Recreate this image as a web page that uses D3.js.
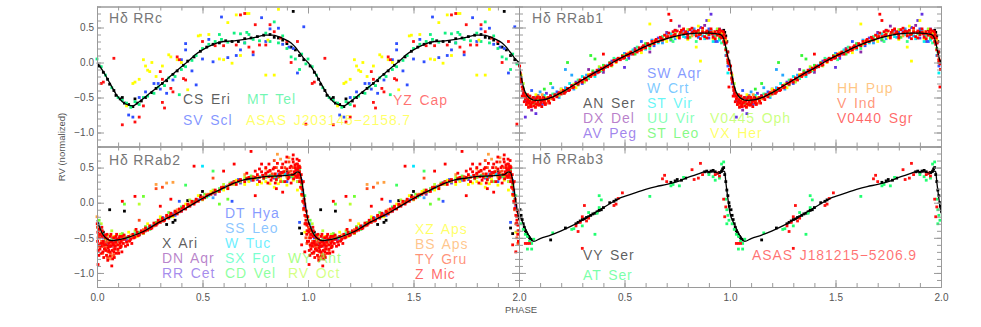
<!DOCTYPE html>
<html><head><meta charset="utf-8">
<script src="https://cdn.jsdelivr.net/npm/d3@7"></script>
<style>
body{margin:0;background:#fff}
svg{display:block}
text{font-family:"Liberation Sans",Arial,sans-serif}
</style>
</head><body>
<svg id="chart" width="981" height="327"></svg>
<script>
// ---------------- DATA ----------------
const phaseTicks = [0, 0.5, 1.0, 1.5, 2.0];
const rvTicks = [-1.0, -0.5, 0.0, 0.5];
const panelTitles = ["Hδ RRc", "Hδ RRab1", "Hδ RRab2", "Hδ RRab3"];

// mean template curves [phase, rv]
const curveRRc = [[0,0.0],[0.03,-0.13],[0.06,-0.29],[0.09,-0.45],[0.12,-0.56],[0.15,-0.61],[0.17,-0.62],[0.20,-0.56],[0.25,-0.44],[0.30,-0.32],[0.35,-0.19],[0.40,-0.06],[0.44,0.04],[0.47,0.12],[0.50,0.18],[0.53,0.23],[0.56,0.27],[0.60,0.30],[0.65,0.31],[0.70,0.33],[0.75,0.36],[0.80,0.39],[0.83,0.39],[0.86,0.37],[0.89,0.33],[0.92,0.28],[0.94,0.22],[0.96,0.14],[0.98,0.06],[1.0,0.0]];
const curveRRab1 = [[0,-0.02],[0.01,-0.2],[0.02,-0.34],[0.03,-0.43],[0.05,-0.51],[0.08,-0.54],[0.12,-0.53],[0.16,-0.49],[0.20,-0.43],[0.25,-0.34],[0.30,-0.25],[0.35,-0.16],[0.40,-0.08],[0.45,0.01],[0.50,0.09],[0.55,0.16],[0.60,0.23],[0.65,0.29],[0.70,0.34],[0.75,0.38],[0.80,0.41],[0.85,0.42],[0.90,0.42],[0.94,0.41],[0.96,0.39],[0.97,0.34],[0.98,0.22],[0.99,0.08],[1.0,-0.02]];
const curveRRab2 = [[0,-0.25],[0.01,-0.33],[0.02,-0.41],[0.03,-0.46],[0.05,-0.52],[0.07,-0.54],[0.10,-0.53],[0.14,-0.50],[0.18,-0.46],[0.22,-0.41],[0.26,-0.34],[0.30,-0.27],[0.34,-0.21],[0.38,-0.15],[0.42,-0.08],[0.46,-0.01],[0.50,0.06],[0.55,0.14],[0.60,0.21],[0.65,0.28],[0.70,0.33],[0.75,0.35],[0.80,0.37],[0.85,0.38],[0.90,0.39],[0.93,0.40],[0.95,0.44],[0.96,0.43],[0.97,0.32],[0.98,0.12],[0.99,-0.08],[1.0,-0.25]];
const curveRRab3 = [[0,-0.15],[0.02,-0.30],[0.04,-0.43],[0.07,-0.55],[0.10,-0.51],[0.15,-0.46],[0.20,-0.40],[0.25,-0.33],[0.30,-0.25],[0.35,-0.16],[0.40,-0.07],[0.45,0.02],[0.48,0.07],[0.50,0.09],[0.55,0.14],[0.60,0.19],[0.65,0.23],[0.70,0.26],[0.75,0.30],[0.80,0.36],[0.85,0.41],[0.88,0.44],[0.92,0.44],[0.95,0.42],[0.97,0.45],[0.975,0.44],[0.98,0.30],[0.99,0.06],[1.0,-0.15]];

// ---- RRc stars ----
const csEri = [[0.01,-0.05],[0.03,-0.14],[0.05,-0.24],[0.06,-0.31],[0.08,-0.40],[0.09,-0.47],[0.11,-0.52],[0.13,-0.58],[0.15,-0.60],[0.17,-0.63],[0.19,-0.58],[0.21,-0.55],[0.23,-0.50],[0.26,-0.43],[0.28,-0.37],[0.31,-0.30],[0.33,-0.26],[0.36,-0.17],[0.38,-0.12],[0.41,-0.04],[0.43,0.02],[0.46,0.08],[0.49,0.16],[0.52,0.22],[0.55,0.26],[0.58,0.28],[0.61,0.31],[0.64,0.30],[0.67,0.30],[0.70,0.34],[0.73,0.35],[0.76,0.37],[0.79,0.39],[0.82,0.40],[0.84,0.36],[0.86,0.35],[0.88,0.32],[0.90,0.27],[0.92,0.22],[0.94,0.18],[0.96,0.10],[0.98,0.04],[0.93,0.73],[0.12,-0.50],[0.18,-0.52]];
const mtTel = [[0.00,0.05],[0.02,-0.06],[0.04,-0.18],[0.07,-0.36],[0.10,-0.50],[0.12,-0.54],[0.14,-0.58],[0.16,-0.64],[0.18,-0.56],[0.20,-0.60],[0.22,-0.50],[0.24,-0.48],[0.27,-0.44],[0.29,-0.35],[0.32,-0.33],[0.34,-0.22],[0.37,-0.20],[0.39,-0.46],[0.40,-0.10],[0.42,-0.06],[0.45,0.03],[0.47,0.10],[0.50,0.20],[0.53,0.26],[0.56,0.30],[0.59,0.33],[0.62,0.29],[0.65,0.42],[0.68,0.41],[0.70,0.28],[0.72,0.40],[0.74,0.33],[0.77,0.31],[0.80,0.42],[0.82,0.30],[0.84,0.58],[0.86,0.28],[0.88,0.38],[0.90,0.20],[0.92,0.08],[0.94,0.05],[0.96,-0.10],[0.97,0.12],[0.99,-0.02],[0.58,0.40],[0.71,0.43]];
const svScl = [[0.15,-0.75],[0.17,-0.78],[0.20,-0.50],[0.23,-0.42],[0.27,-0.30],[0.29,-0.30],[0.33,-0.44],[0.36,-0.25],[0.40,0.04],[0.42,0.27],[0.42,0.18],[0.45,-0.12],[0.47,-0.32],[0.50,0.05],[0.55,0.01],[0.59,0.65],[0.62,0.07],[0.66,0.10],[0.70,0.28],[0.74,0.11],[0.78,0.64],[0.80,0.30],[0.82,0.48],[0.86,0.49],[0.88,0.26],[0.91,0.22],[0.93,0.20],[0.95,-0.15],[0.98,0.51],[0.30,-0.38],[0.53,0.33],[0.68,0.18]];
const asasJ2031 = [[0.17,-0.30],[0.18,-0.28],[0.20,-0.24],[0.22,0.04],[0.23,-0.05],[0.24,-0.11],[0.25,-0.13],[0.26,0.00],[0.28,-0.20],[0.31,-0.05],[0.34,0.11],[0.38,0.04],[0.40,0.00],[0.43,-0.39],[0.49,0.39],[0.53,0.40],[0.58,0.05],[0.60,0.04],[0.62,0.57],[0.64,-0.01],[0.66,0.68],[0.68,0.10],[0.71,0.70],[0.72,0.70],[0.80,-0.18],[0.81,0.32],[0.84,-0.18],[0.86,0.76],[0.48,0.38],[0.35,0.08],[0.14,-0.62]];
const yzCap = [[0.08,0.06],[0.12,-0.89],[0.18,-0.85],[0.20,-0.78],[0.22,-0.62],[0.31,-0.57],[0.32,-0.65],[0.30,-0.13],[0.31,-0.24],[0.35,-0.37],[0.36,-0.42],[0.38,0.08],[0.39,0.04],[0.41,-0.23],[0.42,-0.25],[0.50,0.30],[0.60,0.24],[0.66,0.25],[0.68,0.68],[0.70,0.70],[0.72,0.22],[0.74,0.15],[0.75,0.54],[0.77,0.25],[0.80,0.25],[0.82,0.54],[0.84,0.44],[0.87,0.35],[0.90,0.30],[0.92,0.00],[0.95,0.30],[0.02,-0.30],[0.03,-0.28],[0.99,-0.88],[0.56,0.24]];

// ---- RRab1 stars ----
const anSer = [[0.97,0.46],[0.975,0.43],[0.98,0.38],[0.985,0.30],[0.99,0.15],[0.995,0.02],[0.05,-0.50],[0.12,-0.50],[0.30,-0.26],[0.50,0.08],[0.70,0.36],[0.90,0.44],[0.96,0.42],[0.94,0.47]];
const dxDel = [[0.02,-0.45],[0.06,-0.68],[0.10,-0.58],[0.15,-0.47],[0.25,-0.33],[0.33,-0.10],[0.40,-0.14],[0.48,0.05],[0.55,0.20],[0.62,0.15],[0.70,0.43],[0.76,0.52],[0.80,0.36],[0.84,0.44],[0.88,0.53],[0.92,0.40],[0.95,0.48],[0.97,0.36],[0.99,0.00]];
const avPeg = [[0.01,-0.30],[0.04,-0.58],[0.08,-0.60],[0.13,-0.44],[0.20,-0.38],[0.27,-0.28],[0.36,-0.14],[0.44,0.02],[0.52,0.06],[0.60,0.26],[0.66,0.35],[0.72,0.32],[0.78,0.46],[0.82,0.44],[0.86,0.50],[0.90,0.35],[0.93,0.30],[0.96,0.45],[0.98,0.28],[0.89,0.60],[0.08,-0.73],[0.50,-0.07],[0.03,-0.78],[0.91,0.69]];
const swAqr = [[0.03,-0.55],[0.07,-0.50],[0.11,-0.60],[0.18,-0.42],[0.23,-0.40],[0.30,-0.30],[0.38,-0.10],[0.46,0.04],[0.53,0.12],[0.58,0.30],[0.64,0.24],[0.70,0.40],[0.74,0.46],[0.80,0.44],[0.85,0.36],[0.90,0.48],[0.94,0.30],[0.97,0.40],[0.99,-0.05],[0.06,-0.40]];
const wCrt = [[0.02,-0.40],[0.05,-0.56],[0.09,-0.47],[0.14,-0.52],[0.19,-0.50],[0.22,-0.36],[0.26,-0.38],[0.32,-0.18],[0.37,-0.15],[0.42,-0.04],[0.50,0.13],[0.57,0.18],[0.63,0.32],[0.68,0.28],[0.74,0.34],[0.79,0.36],[0.83,0.48],[0.87,0.38],[0.91,0.46],[0.95,0.36],[0.98,0.10],[0.16,-0.36],[0.10,-0.42],[0.22,-0.10],[0.25,-0.18]];
const stVir = [[0.01,-0.22],[0.04,-0.48],[0.08,-0.50],[0.12,-0.47],[0.17,-0.45],[0.24,-0.30],[0.30,-0.20],[0.36,-0.20],[0.41,-0.07],[0.47,0.06],[0.54,0.18],[0.60,0.19],[0.66,0.28],[0.72,0.41],[0.78,0.37],[0.83,0.40],[0.88,0.34],[0.92,0.30],[0.95,0.32],[0.975,0.28],[0.99,-0.15]];
const uuVir = [[0.02,-0.36],[0.06,-0.52],[0.10,-0.56],[0.16,-0.45],[0.21,-0.44],[0.28,-0.25],[0.33,-0.23],[0.39,-0.12],[0.45,0.06],[0.51,0.04],[0.56,0.22],[0.62,0.20],[0.68,0.37],[0.73,0.30],[0.77,0.42],[0.84,0.30],[0.89,0.41],[0.93,0.38],[0.96,0.28],[0.985,0.15]];
const stLeo = [[0.03,-0.45],[0.07,-0.58],[0.12,-0.55],[0.15,-0.30],[0.22,-0.40],[0.28,-0.32],[0.35,-0.12],[0.40,-0.04],[0.43,0.00],[0.49,0.10],[0.55,0.12],[0.60,0.27],[0.67,0.32],[0.72,0.33],[0.76,0.40],[0.81,0.36],[0.86,0.40],[0.91,0.42],[0.95,0.35],[0.98,0.20],[0.34,0.10],[0.12,-0.38],[0.23,0.00],[0.36,0.05]];
const v0445Oph = [[0.02,-0.30],[0.05,-0.48],[0.09,-0.52],[0.13,-0.50],[0.19,-0.47],[0.26,-0.31],[0.31,-0.28],[0.38,-0.06],[0.44,-0.05],[0.50,0.10],[0.57,0.20],[0.63,0.26],[0.69,0.33],[0.74,0.42],[0.80,0.47],[0.85,0.44],[0.90,0.40],[0.94,0.48],[0.97,0.40],[0.99,0.00]];
const vxHer = [[0.01,-0.18],[0.05,-0.53],[0.08,-0.46],[0.14,-0.54],[0.20,-0.38],[0.27,-0.36],[0.33,-0.17],[0.39,-0.10],[0.46,0.00],[0.52,0.14],[0.58,0.14],[0.64,0.30],[0.70,0.30],[0.75,0.36],[0.80,0.33],[0.84,0.22],[0.87,0.45],[0.92,0.34],[0.96,0.43],[0.98,0.32],[0.62,0.55],[0.90,0.60],[0.85,0.52],[0.86,0.02]];
const hhPup = [[0.02,-0.38],[0.06,-0.56],[0.10,-0.50],[0.15,-0.52],[0.20,-0.41],[0.25,-0.36],[0.30,-0.27],[0.35,-0.18],[0.42,-0.06],[0.48,0.06],[0.53,0.14],[0.59,0.20],[0.65,0.31],[0.70,0.38],[0.76,0.40],[0.82,0.38],[0.87,0.43],[0.92,0.44],[0.95,0.38],[0.98,0.30],[0.12,-0.56],[0.04,-0.60],[0.08,-0.62],[0.11,-0.46]];
const vInd = [[0.01,-0.25],[0.03,-0.47],[0.07,-0.56],[0.11,-0.52],[0.17,-0.48],[0.23,-0.37],[0.29,-0.26],[0.34,-0.17],[0.40,-0.09],[0.46,0.02],[0.51,0.10],[0.57,0.17],[0.62,0.25],[0.68,0.33],[0.73,0.38],[0.79,0.42],[0.84,0.40],[0.89,0.43],[0.93,0.41],[0.97,0.36],[0.99,0.05],[0.05,-0.62],[0.09,-0.48],[0.13,-0.58]];
const v0440Sgr = [[0.003,-0.05],[0.006,-0.15],[0.008,-0.22],[0.012,-0.28],[0.015,-0.35],[0.018,-0.40],[0.022,-0.44],[0.026,-0.48],[0.03,-0.52],[0.034,-0.50],[0.038,-0.56],[0.042,-0.53],[0.046,-0.58],[0.05,-0.55],[0.055,-0.60],[0.06,-0.52],[0.065,-0.57],[0.07,-0.62],[0.075,-0.55],[0.08,-0.59],[0.085,-0.50],[0.09,-0.56],[0.095,-0.61],[0.10,-0.53],[0.105,-0.57],[0.11,-0.55],[0.115,-0.50],[0.12,-0.58],[0.13,-0.52],[0.14,-0.55],[0.15,-0.48],[0.16,-0.51],[0.17,-0.46],[0.18,-0.49],[0.19,-0.43],[0.20,-0.45],[0.21,-0.40],[0.22,-0.42],[0.23,-0.37],[0.24,-0.39],[0.25,-0.33],[0.26,-0.35],[0.27,-0.30],[0.28,-0.31],[0.29,-0.25],[0.30,-0.28],[0.31,-0.22],[0.32,-0.25],[0.33,-0.19],[0.34,-0.20],[0.35,-0.15],[0.36,-0.17],[0.37,-0.11],[0.38,-0.13],[0.39,-0.08],[0.40,-0.10],[0.41,-0.05],[0.42,-0.06],[0.43,-0.01],[0.44,-0.03],[0.45,0.03],[0.46,0.01],[0.47,0.06],[0.48,0.04],[0.49,0.09],[0.50,0.07],[0.51,0.12],[0.52,0.10],[0.53,0.15],[0.54,0.12],[0.55,0.18],[0.56,0.15],[0.57,0.21],[0.58,0.18],[0.59,0.24],[0.60,0.21],[0.61,0.27],[0.62,0.24],[0.63,0.30],[0.64,0.27],[0.65,0.33],[0.66,0.30],[0.67,0.36],[0.68,0.32],[0.69,0.39],[0.70,0.35],[0.71,0.42],[0.72,0.37],[0.73,0.44],[0.74,0.40],[0.75,0.45],[0.76,0.38],[0.77,0.46],[0.78,0.41],[0.79,0.44],[0.80,0.39],[0.81,0.47],[0.82,0.42],[0.83,0.45],[0.84,0.38],[0.85,0.46],[0.86,0.41],[0.87,0.44],[0.88,0.37],[0.89,0.45],[0.90,0.40],[0.91,0.43],[0.92,0.36],[0.93,0.44],[0.94,0.39],[0.95,0.42],[0.96,0.35],[0.965,0.38],[0.97,0.30],[0.975,0.26],[0.98,0.18],[0.985,0.10],[0.99,0.03],[0.995,-0.02],[0.72,0.60],[0.40,0.12],[0.71,0.69],[0.995,-0.35],
[0.01,-0.24],[0.02,-0.38],[0.04,-0.46],[0.06,-0.58],[0.08,-0.52],[0.10,-0.60],[0.12,-0.54],[0.14,-0.50],[0.165,-0.53],[0.185,-0.45],[0.215,-0.44],[0.235,-0.40],[0.255,-0.36],[0.285,-0.28],[0.315,-0.24],[0.345,-0.17],[0.375,-0.14],[0.405,-0.07],[0.435,-0.04],[0.465,0.04],[0.495,0.06],[0.525,0.13],[0.555,0.16],[0.585,0.22],[0.615,0.25],[0.645,0.31],[0.675,0.34],[0.705,0.37],[0.735,0.39],[0.765,0.43],[0.795,0.41],[0.825,0.43],[0.855,0.40],[0.885,0.43],[0.915,0.41],[0.945,0.44],[0.955,0.37],
[0.015,-0.48],[0.025,-0.56],[0.035,-0.60],[0.045,-0.64],[0.052,-0.48],[0.058,-0.63],[0.068,-0.50],[0.078,-0.64],[0.088,-0.60],[0.098,-0.50],[0.108,-0.63],[0.125,-0.60],[0.145,-0.58],[0.74,0.46],[0.76,0.35],[0.78,0.48],[0.80,0.35],[0.82,0.49],[0.84,0.44],[0.86,0.34],[0.87,0.49],[0.89,0.35],[0.91,0.48],[0.93,0.34],[0.95,0.47],[0.96,0.45],[0.968,0.44],[0.972,0.40],[0.978,0.35],[0.982,0.28],[0.988,0.15],[0.992,0.00],[0.997,-0.10]];

// ---- RRab2 stars ----
const xAri = [[0.06,-0.10],[0.13,-0.12],[0.05,-0.60],[0.03,-0.42],[0.36,-0.28],[0.37,-0.25],[0.33,-0.31],[0.50,0.16],[0.49,0.10],[0.65,0.30],[0.80,0.37],[0.90,0.44],[0.95,0.40],[0.96,-0.36],[0.97,-0.44],[0.99,-0.30],[0.20,-0.45],[0.43,0.03]];
const dnAqr = [[0.02,-0.45],[0.06,-0.62],[0.10,-0.55],[0.16,-0.48],[0.24,-0.38],[0.32,-0.24],[0.40,-0.12],[0.48,0.04],[0.56,0.12],[0.64,0.28],[0.72,0.32],[0.80,0.40],[0.87,0.43],[0.93,0.35],[0.97,0.28]];
const rrCet = [[0.03,-0.55],[0.08,-0.62],[0.14,-0.53],[0.21,-0.42],[0.28,-0.30],[0.36,-0.16],[0.44,-0.04],[0.52,0.09],[0.60,0.20],[0.68,0.28],[0.76,0.33],[0.84,0.35],[0.90,0.42],[0.95,0.30],[0.985,-0.05]];
const dtHya = [[0.03,-0.50],[0.08,-0.56],[0.13,-0.52],[0.19,-0.46],[0.25,-0.35],[0.31,-0.21],[0.37,-0.18],[0.43,-0.03],[0.49,0.05],[0.55,0.15],[0.61,0.23],[0.67,0.33],[0.73,0.32],[0.79,0.38],[0.85,0.36],[0.90,0.30],[0.95,0.38],[0.98,0.00],[0.39,0.02],[0.96,-0.28],[0.64,0.02]];
const ssLeo = [[0.01,-0.30],[0.05,-0.58],[0.09,-0.52],[0.14,-0.49],[0.20,-0.45],[0.26,-0.33],[0.32,-0.22],[0.38,-0.15],[0.44,-0.02],[0.50,0.06],[0.56,0.17],[0.62,0.22],[0.68,0.31],[0.74,0.34],[0.80,0.36],[0.86,0.40],[0.92,0.37],[0.97,0.32],[0.55,0.07]];
const wTuc = [[0.02,-0.35],[0.06,-0.55],[0.11,-0.53],[0.17,-0.47],[0.23,-0.40],[0.29,-0.27],[0.35,-0.17],[0.41,-0.08],[0.47,0.04],[0.53,0.10],[0.59,0.19],[0.65,0.29],[0.71,0.33],[0.77,0.37],[0.83,0.38],[0.89,0.41],[0.94,0.42],[0.975,0.15],[0.50,0.52]];
const sxFor = [[0.03,-0.46],[0.07,-0.52],[0.12,-0.50],[0.18,-0.44],[0.24,-0.36],[0.31,-0.26],[0.37,-0.13],[0.43,-0.04],[0.49,0.07],[0.55,0.14],[0.61,0.22],[0.67,0.30],[0.73,0.35],[0.80,0.38],[0.86,0.36],[0.91,0.40],[0.95,0.42],[0.98,0.05]];
const cdVel = [[0.02,-0.40],[0.06,-0.54],[0.10,-0.52],[0.15,-0.50],[0.20,-0.42],[0.25,-0.38],[0.30,-0.24],[0.35,-0.20],[0.40,-0.06],[0.46,0.02],[0.52,0.08],[0.58,0.20],[0.64,0.27],[0.70,0.33],[0.76,0.36],[0.82,0.39],[0.87,0.40],[0.92,0.38],[0.96,0.46],[0.985,0.10],[0.42,0.25],[0.55,0.45]];
const wyAnt = [[0.01,-0.25],[0.04,-0.52],[0.08,-0.50],[0.12,-0.44],[0.17,-0.48],[0.23,-0.34],[0.28,-0.28],[0.34,-0.14],[0.39,-0.10],[0.45,-0.01],[0.51,0.12],[0.57,0.16],[0.63,0.28],[0.68,0.30],[0.73,0.38],[0.79,0.34],[0.84,0.37],[0.88,0.30],[0.93,0.36],[0.97,0.25],[0.62,0.05],[0.58,-0.02],[0.13,-0.02],[0.22,0.09]];
const rvOct = [[0.02,-0.30],[0.05,-0.46],[0.09,-0.56],[0.13,-0.47],[0.18,-0.40],[0.22,-0.44],[0.27,-0.30],[0.33,-0.20],[0.38,-0.12],[0.44,0.04],[0.50,0.04],[0.55,0.18],[0.60,0.26],[0.65,0.26],[0.70,0.36],[0.75,0.34],[0.80,0.36],[0.85,0.32],[0.90,0.36],[0.95,0.30],[0.98,0.00],[0.20,-0.02],[0.07,-0.40],[0.11,-0.45]];
const xzAps = [[0.01,-0.38],[0.04,-0.50],[0.08,-0.48],[0.11,-0.62],[0.15,-0.42],[0.19,-0.48],[0.24,-0.30],[0.30,-0.20],[0.36,-0.20],[0.42,-0.02],[0.48,0.10],[0.54,0.16],[0.60,0.18],[0.66,0.32],[0.72,0.30],[0.76,0.26],[0.80,0.30],[0.84,0.22],[0.87,0.33],[0.90,0.25],[0.93,0.32],[0.95,0.18],[0.97,0.10],[0.985,-0.42],[0.62,0.20],[0.70,0.26],[0.78,0.28],[0.82,0.27],[0.86,0.27],[0.74,0.33]];
const bsAps = [[0.00,-0.20],[0.02,-0.42],[0.04,-0.64],[0.07,-0.76],[0.09,-0.60],[0.12,-0.50],[0.16,-0.46],[0.22,-0.38],[0.28,0.26],[0.33,0.28],[0.36,0.29],[0.30,-0.26],[0.38,-0.10],[0.44,-0.02],[0.52,0.12],[0.58,0.18],[0.64,0.26],[0.70,0.40],[0.76,0.38],[0.80,0.48],[0.84,0.40],[0.87,0.62],[0.89,0.45],[0.92,0.40],[0.94,0.50],[0.96,0.35],[0.98,-0.10],[0.06,-0.80],[0.855,0.69],[0.91,0.64]];
const tyGru = [[0.97,0.20],[0.98,0.00],[0.99,-0.20],[0.995,-0.40],[0.002,-0.35],[0.01,-0.46],[0.016,-0.40],[0.022,-0.55],[0.03,-0.62],[0.037,-0.48],[0.045,-0.56],[0.052,-0.70],[0.06,-0.54],[0.068,-0.60],[0.075,-0.50],[0.083,-0.62],[0.09,-0.58],[0.10,-0.68],[0.11,-0.56],[0.12,-0.53],[0.135,-0.50],[0.15,-0.55],[0.17,-0.50],[0.19,-0.45],[0.21,-0.43],[0.23,-0.40],[0.25,-0.36],[0.27,-0.33],[0.29,-0.28],[0.31,-0.25],[0.33,-0.20],[0.35,-0.18],[0.37,-0.14],[0.39,-0.13],[0.41,-0.07],[0.43,-0.05],[0.45,0.00],[0.47,0.03],[0.50,0.08],[0.53,0.12],[0.56,0.15],[0.59,0.22],[0.62,0.24],[0.65,0.30],[0.68,0.31],[0.71,0.35],[0.74,0.37],[0.77,0.36],[0.80,0.40],[0.83,0.41],[0.86,0.37],[0.88,0.42],[0.90,0.38],[0.92,0.45],[0.94,0.42],[0.95,0.48],[0.96,0.38],[0.28,0.20],[0.31,0.22],[0.20,-0.25],[0.84,0.60],[0.91,0.58],[0.55,0.35],[0.05,-0.78],[0.08,-0.74],
[0.005,-0.50],[0.012,-0.62],[0.02,-0.45],[0.027,-0.72],[0.034,-0.58],[0.04,-0.65],[0.048,-0.50],[0.056,-0.62],[0.064,-0.72],[0.072,-0.56],[0.08,-0.66],[0.087,-0.50],[0.095,-0.60],[0.105,-0.55],[0.115,-0.62],[0.82,0.45],[0.85,0.50],[0.87,0.30],[0.89,0.50],[0.91,0.44],[0.93,0.50],[0.94,0.36],[0.945,0.55],[0.955,0.42],[0.96,0.52],[0.965,0.30],[0.975,0.10],[0.98,-0.10],[0.985,-0.30],[0.99,-0.50],[0.995,-0.58]];
const zMic = [[0.955,0.40],[0.96,0.30],[0.965,0.22],[0.97,0.12],[0.975,0.02],[0.98,-0.08],[0.985,-0.18],[0.99,-0.25],[0.995,-0.32],[0.998,-0.20],[0.001,-0.30],[0.004,-0.42],[0.008,-0.38],[0.012,-0.50],[0.015,-0.45],[0.018,-0.58],[0.02,-0.62],[0.024,-0.48],[0.028,-0.70],[0.03,-0.55],[0.035,-0.66],[0.038,-0.50],[0.042,-0.60],[0.045,-0.75],[0.05,-0.52],[0.053,-0.64],[0.056,-0.58],[0.06,-0.70],[0.063,-0.48],[0.067,-0.62],[0.07,-0.55],[0.074,-0.80],[0.078,-0.60],[0.08,-0.50],[0.085,-0.66],[0.088,-0.56],[0.092,-0.72],[0.095,-0.52],[0.10,-0.60],[0.105,-0.50],[0.11,-0.64],[0.115,-0.55],[0.12,-0.48],[0.125,-0.58],[0.13,-0.52],[0.14,-0.56],[0.15,-0.48],[0.16,-0.52],[0.17,-0.45],[0.18,-0.49],[0.19,-0.42],[0.20,-0.46],[0.21,-0.40],[0.22,-0.43],[0.23,-0.36],[0.24,-0.39],[0.25,-0.33],[0.26,-0.36],[0.27,-0.29],[0.28,-0.32],[0.29,-0.25],[0.30,-0.28],[0.31,-0.22],[0.32,-0.25],[0.33,-0.18],[0.34,-0.22],[0.35,-0.15],[0.36,-0.18],[0.37,-0.12],[0.38,-0.16],[0.39,-0.09],[0.40,-0.12],[0.41,-0.05],[0.42,-0.09],[0.43,-0.02],[0.44,-0.05],[0.45,0.02],[0.46,-0.02],[0.47,0.05],[0.48,0.02],[0.49,0.08],[0.50,0.05],[0.52,0.10],[0.54,0.12],[0.56,0.18],[0.58,0.16],[0.60,0.22],[0.62,0.20],[0.64,0.28],[0.66,0.26],[0.68,0.33],[0.70,0.30],[0.72,0.36],[0.74,0.32],[0.76,0.40],[0.77,0.30],[0.78,0.44],[0.79,0.35],[0.80,0.42],[0.81,0.28],[0.82,0.46],[0.83,0.36],[0.84,0.50],[0.85,0.33],[0.86,0.45],[0.87,0.38],[0.88,0.55],[0.89,0.30],[0.90,0.48],[0.91,0.36],[0.92,0.52],[0.925,0.40],[0.93,0.58],[0.935,0.44],[0.94,0.50],[0.945,0.38],[0.95,0.55],[0.952,0.47],[0.958,0.60],[0.96,0.44],[0.73,0.73],[0.46,0.52],[0.12,0.02],[0.18,0.09],[0.85,0.20],[0.88,0.15],[0.90,0.65],[0.93,0.68],[0.60,0.45],[0.30,-0.05],[0.65,0.55],[0.005,-0.88],[0.07,-0.90],[0.97,-0.60],[0.985,-0.70],[0.75,0.10],[0.35,0.05],
[0.01,-0.60],[0.025,-0.40],[0.04,-0.46],[0.055,-0.68],[0.065,-0.56],[0.08,-0.70],[0.09,-0.48],[0.11,-0.58],[0.135,-0.62],[0.155,-0.54],[0.175,-0.50],[0.195,-0.47],[0.225,-0.40],[0.255,-0.37],[0.285,-0.30],[0.315,-0.26],[0.345,-0.19],[0.375,-0.14],[0.405,-0.08],[0.435,-0.04],[0.465,0.01],[0.51,0.07],[0.55,0.14],[0.59,0.21],[0.63,0.26],[0.67,0.31],[0.71,0.34],[0.75,0.36],[0.785,0.39],[0.815,0.37],[0.845,0.41],[0.875,0.43],[0.905,0.42],[0.935,0.40],[0.955,0.50],
[0.003,-0.55],[0.006,-0.68],[0.009,-0.75],[0.014,-0.66],[0.019,-0.72],[0.023,-0.35],[0.027,-0.58],[0.032,-0.78],[0.036,-0.60],[0.041,-0.68],[0.047,-0.45],[0.051,-0.82],[0.058,-0.62],[0.062,-0.76],[0.066,-0.45],[0.072,-0.68],[0.076,-0.58],[0.082,-0.78],[0.087,-0.62],[0.093,-0.45],[0.098,-0.66],[0.103,-0.72],[0.108,-0.48],[0.113,-0.62],[0.118,-0.70],[0.128,-0.46],[0.145,-0.60],[0.165,-0.58],[0.185,-0.38],
[0.80,0.50],[0.81,0.44],[0.815,0.55],[0.825,0.32],[0.835,0.48],[0.845,0.28],[0.855,0.56],[0.865,0.40],[0.875,0.50],[0.885,0.44],[0.895,0.58],[0.905,0.34],[0.915,0.50],[0.92,0.28],[0.928,0.62],[0.932,0.34],[0.938,0.54],[0.942,0.46],[0.948,0.62],[0.95,0.36],[0.955,0.52],[0.962,0.50],[0.965,0.35],[0.968,0.40],[0.972,0.28],[0.975,0.18],[0.978,0.30],[0.982,0.05],[0.985,-0.02],[0.988,-0.30],[0.992,-0.12],[0.994,-0.45],[0.997,-0.55],[0.999,-0.40],[0.78,0.55],[0.77,0.48],[0.75,0.45],[0.71,0.42]];

// ---- RRab3 stars ----
const vySer = [[0.005,-0.10],[0.01,-0.18],[0.015,-0.24],[0.02,-0.30],[0.025,-0.35],[0.03,-0.40],[0.035,-0.43],[0.04,-0.46],[0.045,-0.48],[0.05,-0.50],[0.055,-0.52],[0.06,-0.53],[0.15,-0.53],[0.22,-0.36],[0.27,-0.30],[0.28,-0.28],[0.29,-0.26],[0.30,-0.24],[0.31,-0.23],[0.32,-0.21],[0.33,-0.20],[0.34,-0.18],[0.35,-0.16],[0.36,-0.15],[0.37,-0.13],[0.38,-0.11],[0.39,-0.10],[0.40,-0.07],[0.43,0.00],[0.45,0.02],[0.46,0.04],[0.72,0.29],[0.74,0.31],[0.75,0.33],[0.77,0.32],[0.79,0.35],[0.88,0.44],[0.89,0.45],[0.90,0.43],[0.91,0.45],[0.92,0.46],[0.93,0.44],[0.94,0.42],[0.95,0.43],[0.96,0.45],[0.965,0.48],[0.97,0.50],[0.975,0.40],[0.98,0.30],[0.985,0.18],[0.99,0.10],[0.995,0.00],[0.997,-0.05]];
const atSer = [[0.01,-0.30],[0.02,-0.38],[0.03,-0.45],[0.04,-0.48],[0.05,-0.55],[0.06,-0.58],[0.07,-0.52],[0.04,-0.66],[0.06,-0.66],[0.16,-0.43],[0.25,-0.38],[0.26,-0.37],[0.30,-0.33],[0.33,-0.14],[0.37,-0.15],[0.38,-0.07],[0.38,0.10],[0.39,0.04],[0.36,-0.45],[0.62,0.09],[0.72,0.24],[0.73,0.26],[0.76,0.24],[0.78,0.36],[0.90,0.40],[0.92,0.37],[0.93,0.32],[0.95,0.35],[0.96,0.55],[0.97,0.58],[0.98,0.05],[0.985,-0.10],[0.99,-0.18],[0.995,-0.25],[0.985,-0.30]];
const asasJ1812 = [[0.03,-0.58],[0.04,-0.58],[0.05,-0.58],[0.27,-0.33],[0.28,-0.41],[0.29,-0.28],[0.30,-0.20],[0.30,-0.65],[0.31,-0.04],[0.32,-0.26],[0.33,-0.22],[0.45,-0.04],[0.46,-0.02],[0.47,0.06],[0.49,0.14],[0.68,0.34],[0.69,0.39],[0.70,0.30],[0.82,0.47],[0.83,0.33],[0.85,0.35],[0.87,0.40],[0.86,0.56],[0.93,0.40],[0.94,0.42],[0.95,0.38],[0.97,0.05],[0.975,-0.20],[0.98,-0.06]];

// ---------------- LAYOUT / DRAW ----------------
const svg = d3.select("#chart");
const axisColor = "#9a9a9a", labelColor = "#555";
const colX = [[97, 519], [519, 941]];
const rowY = [[146.5, 6.5], [287, 146.5]];

const panels = [
  {title: panelTitles[0], col: 0, row: 0, curve: curveRRc, titlePos: [109, 23], stars: [
    {name: "CS Eri", color: "#000000", data: csEri, pos: [183, 104]},
    {name: "SV Scl", color: "#2f4fff", data: svScl, pos: [183, 125]},
    {name: "MT Tel", color: "#10f080", data: mtTel, pos: [247, 104]},
    {name: "ASAS J203145−2158.7", color: "#ffff00", data: asasJ2031, pos: [246, 125]},
    {name: "YZ Cap", color: "#ff1010", data: yzCap, pos: [393, 105]}]},
  {title: panelTitles[1], col: 1, row: 0, curve: curveRRab1, titlePos: [532, 23], stars: [
    {name: "AN Ser", color: "#000000", data: anSer, pos: [583, 108]},
    {name: "DX Del", color: "#8a2aa8", data: dxDel, pos: [583, 123]},
    {name: "AV Peg", color: "#6433e0", data: avPeg, pos: [583, 138]},
    {name: "SW Aqr", color: "#3358ff", data: swAqr, pos: [647, 78]},
    {name: "W Crt", color: "#25a5ff", data: wCrt, pos: [647, 93]},
    {name: "ST Vir", color: "#00f0f0", data: stVir, pos: [647, 108]},
    {name: "UU Vir", color: "#35ff8a", data: uuVir, pos: [647, 123]},
    {name: "ST Leo", color: "#35f535", data: stLeo, pos: [647, 138]},
    {name: "V0445 Oph", color: "#a8ff2a", data: v0445Oph, pos: [710, 123]},
    {name: "VX Her", color: "#ffff00", data: vxHer, pos: [710, 138]},
    {name: "HH Pup", color: "#ffa030", data: hhPup, pos: [837, 93]},
    {name: "V Ind", color: "#ff5020", data: vInd, pos: [837, 108]},
    {name: "V0440 Sgr", color: "#ff0000", data: v0440Sgr, pos: [837, 123]}]},
  {title: panelTitles[2], col: 0, row: 1, curve: curveRRab2, titlePos: [109, 165], stars: [
    {name: "X Ari", color: "#000000", data: xAri, pos: [162, 248]},
    {name: "DN Aqr", color: "#8a30a8", data: dnAqr, pos: [162, 263]},
    {name: "RR Cet", color: "#6a40e0", data: rrCet, pos: [162, 278]},
    {name: "DT Hya", color: "#3358ff", data: dtHya, pos: [225, 218]},
    {name: "SS Leo", color: "#40a0ff", data: ssLeo, pos: [225, 233]},
    {name: "W Tuc", color: "#00e4ff", data: wTuc, pos: [225, 248]},
    {name: "SX For", color: "#20ffb0", data: sxFor, pos: [225, 263]},
    {name: "CD Vel", color: "#40ff60", data: cdVel, pos: [225, 278]},
    {name: "WY Ant", color: "#70ff30", data: wyAnt, pos: [288, 263]},
    {name: "RV Oct", color: "#b8ff30", data: rvOct, pos: [288, 278]},
    {name: "XZ Aps", color: "#ffff00", data: xzAps, pos: [415, 234]},
    {name: "BS Aps", color: "#ffa040", data: bsAps, pos: [415, 249]},
    {name: "TY Gru", color: "#ff4a1a", data: tyGru, pos: [415, 264]},
    {name: "Z Mic", color: "#ff0000", data: zMic, pos: [415, 279]}]},
  {title: panelTitles[3], col: 1, row: 1, curve: curveRRab3, titlePos: [532, 164], stars: [
    {name: "VY Ser", color: "#000000", data: vySer, pos: [583, 260]},
    {name: "AT Ser", color: "#20ff70", data: atSer, pos: [583, 280]},
    {name: "ASAS J181215−5206.9", color: "#ff1010", data: asasJ1812, pos: [752, 260]}]}
];

const fmt = d => d3.format(".1f")(d).replace("-", "−");
const minorX = d3.range(0, 2.0001, 0.1).map(v => +v.toFixed(2));
const minorY = d3.range(-1.2, 0.8001, 0.1).map(v => +v.toFixed(2));

function styleAxis(g) {
  g.selectAll("path.domain").attr("stroke", axisColor).attr("stroke-width", 1);
  g.selectAll(".tick line").attr("stroke", axisColor).attr("stroke-width", 1);
  g.selectAll(".tick text").attr("fill", labelColor).style("font-size", "10px")
    .style("font-family", '"Liberation Sans",Arial,sans-serif');
}

panels.forEach(p => {
  const x = d3.scaleLinear().domain([0, 2]).range(colX[p.col]);
  const y = d3.scaleLinear().domain([-1.2, 0.8]).range(rowY[p.row]);
  const g = svg.append("g");
  const [x0, x1] = colX[p.col], [yb, yt] = rowY[p.row];

  // points (two cycles)
  const pg = g.append("g");
  p.stars.forEach(s => {
    const pts = [];
    s.data.forEach(d => { pts.push([d[0], d[1]]); pts.push([d[0] + 1, d[1]]); });
    pg.selectAll(null).data(pts.filter(d => d[0] >= 0 && d[0] <= 2 && d[1] >= -1.2 && d[1] <= 0.8))
      .join("rect")
      .attr("x", d => x(d[0]) - 1.4).attr("y", d => y(d[1]) - 1.4)
      .attr("width", 2.8).attr("height", 2.8).attr("fill", s.color);
  });

  // template curve
  const cpts = p.curve.map(d => [d[0], d[1]]).concat(p.curve.slice(1).map(d => [d[0] + 1, d[1]]));
  g.append("path").datum(cpts)
    .attr("fill", "none").attr("stroke", "#000").attr("stroke-width", 1.3)
    .attr("d", d3.line().x(d => x(d[0])).y(d => y(d[1])).curve(d3.curveMonotoneX));

  // axes
  const showY = p.col === 0, showX = p.row === 1;
  const ga = g.append("g");
  const lMaj = ga.append("g").attr("transform", `translate(${x0},0)`)
    .call(d3.axisLeft(y).tickValues(rvTicks).tickSize(-7).tickSizeOuter(0).tickPadding(3)
      .tickFormat(showY ? fmt : () => ""));
  const lMin = ga.append("g").attr("transform", `translate(${x0},0)`)
    .call(d3.axisLeft(y).tickValues(minorY).tickSize(-4).tickSizeOuter(0).tickFormat(() => ""));
  const rMaj = ga.append("g").attr("transform", `translate(${x1},0)`)
    .call(d3.axisRight(y).tickValues(rvTicks).tickSize(-7).tickSizeOuter(0).tickFormat(() => ""));
  const rMin = ga.append("g").attr("transform", `translate(${x1},0)`)
    .call(d3.axisRight(y).tickValues(minorY).tickSize(-4).tickSizeOuter(0).tickFormat(() => ""));
  const xLabVals = p.col === 0 ? phaseTicks : phaseTicks.filter(v => v > 0);
  const bMaj = ga.append("g").attr("transform", `translate(0,${yb})`)
    .call(d3.axisBottom(x).tickValues(phaseTicks).tickSize(-7).tickSizeOuter(0).tickPadding(7)
      .tickFormat(d => (showX && xLabVals.includes(d)) ? d.toFixed(1) : ""));
  const bMin = ga.append("g").attr("transform", `translate(0,${yb})`)
    .call(d3.axisBottom(x).tickValues(minorX).tickSize(-4).tickSizeOuter(0).tickFormat(() => ""));
  const tMaj = ga.append("g").attr("transform", `translate(0,${yt})`)
    .call(d3.axisTop(x).tickValues(phaseTicks).tickSize(-7).tickSizeOuter(0).tickFormat(() => ""));
  const tMin = ga.append("g").attr("transform", `translate(0,${yt})`)
    .call(d3.axisTop(x).tickValues(minorX).tickSize(-4).tickSizeOuter(0).tickFormat(() => ""));
  [lMaj, lMin, rMaj, rMin, bMaj, bMin, tMaj, tMin].forEach(styleAxis);

  // title
  g.append("text").attr("x", p.titlePos[0]).attr("y", p.titlePos[1])
    .attr("fill", "#777").style("font-size", "14px").style("letter-spacing", "0.8px")
    .text(p.title);
  // star labels
  p.stars.forEach(s => {
    g.append("text").attr("x", s.pos[0]).attr("y", s.pos[1])
      .attr("fill", s.color).attr("fill-opacity", s.color === "#000000" ? 0.65 : 0.6)
      .style("font-size", "14px").style("letter-spacing", "0.9px").style("word-spacing", "2px")
      .text(s.name);
  });
});

// axis titles
svg.append("text").attr("x", 521).attr("y", 313).attr("text-anchor", "middle")
  .attr("fill", labelColor).style("font-size", "9.5px").text("PHASE");
svg.append("text").attr("transform", "translate(65,147) rotate(-90)").attr("text-anchor", "middle")
  .attr("fill", labelColor).style("font-size", "9.5px").text("RV (normalized)");
</script>
</body></html>
